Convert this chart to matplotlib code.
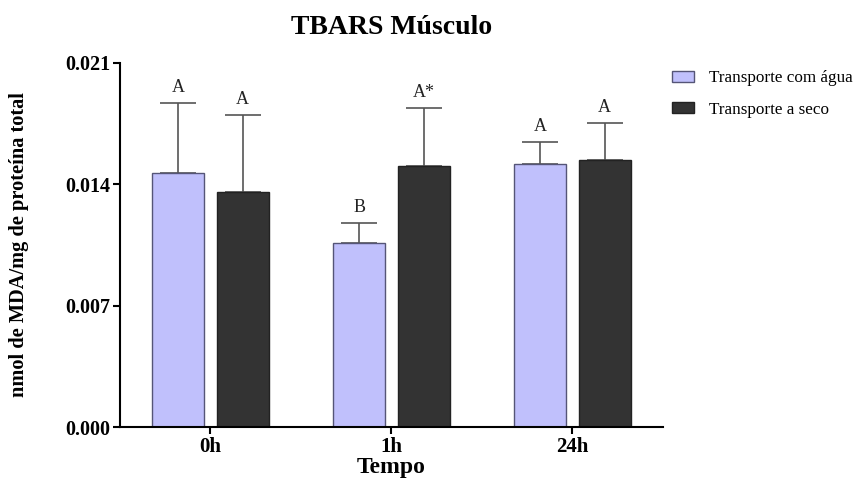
import matplotlib
matplotlib.use("Agg")
import matplotlib.pyplot as plt
import numpy as np
from matplotlib.patches import Patch

plt.rcParams['font.family'] = ['Liberation Serif', 'DejaVu Serif']

groups = ["0h", "1h", "24h"]
series_names = ["Transporte com água", "Transporte a seco"]
agua_mean = [0.01467, 0.01063, 0.01517]
agua_sd = [0.00401, 0.00114, 0.00127]
seco_mean = [0.01354, 0.01506, 0.01540]
seco_sd = [0.00444, 0.00336, 0.00212]
agua_letters = ["A", "B", "A"]
seco_letters = ["A", "A*", "A"]
yticks = [0.000, 0.007, 0.014, 0.021]

colors = ["#c0c0fc", "#333333"]
edges = ["#555577", "#222222"]

fig = plt.figure(figsize=(8.54, 4.82), dpi=100)
ax = fig.add_axes([0.1405, 0.1141, 0.6358, 0.7552])

x = np.arange(len(groups))
width = 0.286
offset = 0.178

for means, sds, letters, col, ec, dx in [
    (agua_mean, agua_sd, agua_letters, colors[0], edges[0], -offset),
    (seco_mean, seco_sd, seco_letters, colors[1], edges[1], offset),
]:
    ax.bar(x + dx, means, width, color=col, edgecolor=ec, linewidth=1.0, zorder=2)
    ax.errorbar(x + dx, means, yerr=[np.zeros(len(means)), sds], fmt='none',
                ecolor="#555555", elinewidth=1.2, capsize=13, capthick=1.2, zorder=1)
    for xi, m, s, lab in zip(x + dx, means, sds, letters):
        ax.text(xi, m + s + 0.0004, lab, ha='center', va='bottom', fontsize=13,
                color="#222222")

ax.set_xlim(-0.5, 2.5)
ax.set_ylim(0, 0.021)
ax.set_yticks(yticks)
ax.set_yticklabels([f"{v:.3f}" for v in yticks], fontsize=14.5, fontweight='bold')
ax.set_xticks(x)
ax.set_xticklabels(groups, fontsize=15, fontweight='bold')
ax.tick_params(axis='both', length=5, width=1.5, color='black', pad=2)

for side in ['top', 'right']:
    ax.spines[side].set_visible(False)
for side in ['left', 'bottom']:
    ax.spines[side].set_linewidth(1.5)

ax.set_ylabel("nmol de MDA/mg de proteína total", fontsize=14.7, fontweight='bold', labelpad=26)
ax.set_xlabel("Tempo", fontsize=17, fontweight='bold', labelpad=0)
ax.set_title("TBARS Músculo", fontsize=20, fontweight='bold', pad=21)

handles = [Patch(facecolor=colors[0], edgecolor=edges[0]),
           Patch(facecolor=colors[1], edgecolor=edges[1])]
fig.legend(handles, series_names, loc='upper left', bbox_to_anchor=(0.769, 0.886),
           frameon=False, fontsize=12.3, handlelength=1.3, handleheight=0.6,
           labelspacing=0.9, handletextpad=0.85)

fig.savefig("out.png", dpi=100)
